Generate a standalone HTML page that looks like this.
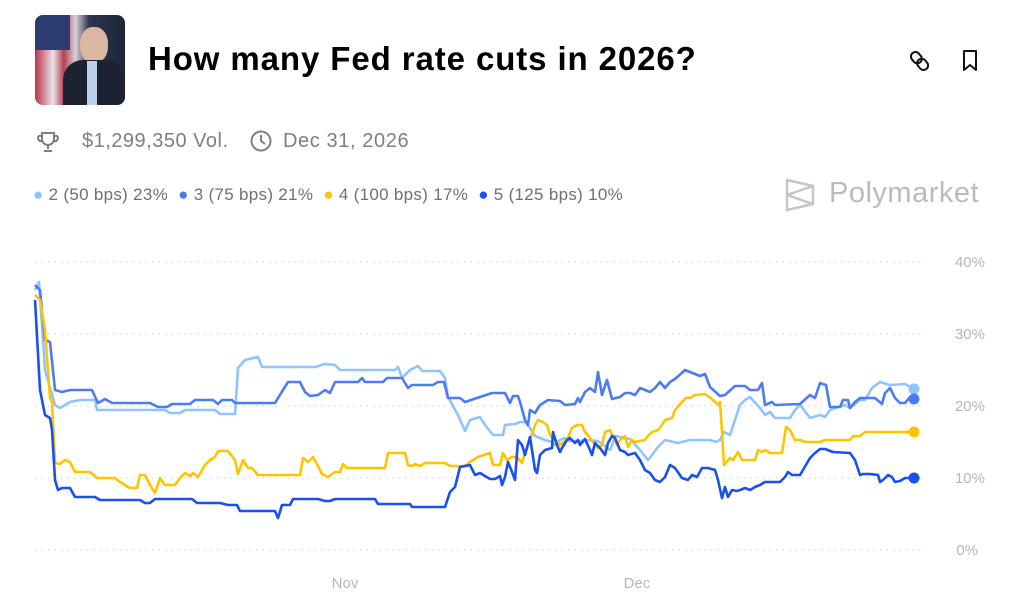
<!DOCTYPE html>
<html><head><meta charset="utf-8"><style>
body{margin:0;width:1024px;height:608px;background:#fff;font-family:"Liberation Sans",sans-serif;overflow:hidden;position:relative}
.t{position:absolute;white-space:nowrap}
</style></head><body>
<div style="position:absolute;left:35px;top:15px;width:90px;height:90px;border-radius:8px;overflow:hidden;background:linear-gradient(90deg,#b8334a 0,#e9e3e8 20%,#b44054 32%,#d8d2d8 45%,#2d3550 60%,#1e2535 100%)">
<div style="position:absolute;left:0;top:0;width:35px;height:35px;background:#2d3c70"></div>
<div style="position:absolute;left:45px;top:12px;width:28px;height:36px;border-radius:45%;background:#d9b7a2"></div>
<div style="position:absolute;left:28px;top:45px;width:62px;height:50px;border-radius:20px 20px 0 0;background:#1c2231"></div>
<div style="position:absolute;left:52px;top:46px;width:10px;height:44px;background:#bcd0e8"></div>
</div>
<div class="t" style="left:148px;top:40px;font-size:33px;letter-spacing:0.9px;font-weight:bold;color:#000">How many Fed rate cuts in 2026?</div>
<svg style="position:absolute;left:908px;top:48px" width="80" height="26" viewBox="0 0 80 26">
<g fill="none" stroke="#111" stroke-width="2"><rect x="4" y="4" width="9" height="12" rx="4.5" transform="rotate(-40 8 10)"/><rect x="10" y="10" width="9" height="12" rx="4.5" transform="rotate(-40 15 16)"/>
<path d="M56 3h12v19l-6-5-6 5z" stroke-linejoin="round"/></g></svg>
<svg style="position:absolute;left:36px;top:130px" width="24" height="24"><g fill="none" stroke="#7a7f87" stroke-width="2"><path d="M6 3h12v6a6 6 0 0 1-12 0z M6 6H3a3 3 0 0 0 3 5 M18 6h3a3 3 0 0 1-3 5 M12 15v4 M8 21h8"/></g></svg>
<div class="t" style="left:82px;top:130px;font-size:20px;letter-spacing:0.5px;color:#7a7f87">$1,299,350 Vol.</div>
<svg style="position:absolute;left:249px;top:129px" width="24" height="24"><circle cx="12" cy="12" r="9.5" fill="none" stroke="#7a7f87" stroke-width="2"/><path d="M12 6v6l4 3" fill="none" stroke="#7a7f87" stroke-width="2"/></svg>
<div class="t" style="left:283px;top:130px;font-size:20px;letter-spacing:0.6px;color:#7a7f87">Dec 31, 2026</div>
<div class="t" style="left:33px;top:185px;font-size:17px;letter-spacing:0.3px;color:#6b7079">
<span style="color:#8ec5ff">●</span> 2 (50 bps) 23% &nbsp;<span style="color:#4c7cf5">●</span> 3 (75 bps) 21% &nbsp;<span style="color:#ffc400">●</span> 4 (100 bps) 17% &nbsp;<span style="color:#1a4ff0">●</span> 5 (125 bps) 10%</div>
<svg style="position:absolute;left:784px;top:177px" width="34" height="36"><g fill="none" stroke="#c3c6cb" stroke-width="2.5"><path d="M3 3l26 6v18l-26 6z M3 3v30 M3 18l26-9 M3 18l26 9"/></g></svg>
<div class="t" style="left:829px;top:177px;font-size:29px;letter-spacing:0.5px;color:#b8bcc2">Polymarket</div>
<svg style="position:absolute;left:0;top:0" width="1024" height="608">
<g stroke="#d3d5d9" stroke-width="1.2" stroke-dasharray="1.5 5"><line x1="35" x2="922" y1="262" y2="262"/><line x1="35" x2="922" y1="334" y2="334"/><line x1="35" x2="922" y1="406" y2="406"/><line x1="35" x2="922" y1="478" y2="478"/><line x1="35" x2="922" y1="550" y2="550"/></g>
<g font-family="Liberation Sans" font-size="15" fill="#b3b7bd"><text x="985" y="267" text-anchor="end">40%</text><text x="985" y="339" text-anchor="end">30%</text><text x="985" y="411" text-anchor="end">20%</text><text x="985" y="483" text-anchor="end">10%</text><text x="978" y="555" text-anchor="end">0%</text>
<text x="345" y="588" text-anchor="middle">Nov</text><text x="637" y="588" text-anchor="middle">Dec</text></g>
<g fill="none" stroke-width="2.6" stroke-linejoin="round">
<polyline stroke="#8ec5ff" points="35,290 39,282 45,370 55,405 60,408 70,402 80,400 95,400 97,410 165,410 170,413 180,413 185,410 215,410 220,414 235,414 238,368 245,360 258,357 262,367 315,367 325,364 335,365 340,370 395,370 398,367 402,378 410,370 418,366 422,371 440,371 445,378 448,397 458,415 465,431 470,420 480,417 485,425 493,435 503,435 505,425 515,424 520,422 525,422 530,428 535,436 545,440 552,442 555,445 560,440 565,438 570,441 580,441 585,440 598,441 605,446 610,450 612,446 615,436 620,437 630,439 640,450 648,460 652,455 658,447 665,440 678,443 690,440 710,440 716,442 720,440 724,432 730,435 735,420 740,405 745,400 750,397 760,408 765,415 770,412 775,418 790,418 795,410 800,405 810,418 820,415 825,417 830,410 835,408 845,405 850,408 860,400 865,400 872,388 880,382 890,385 905,384 914,389"/>
<polyline stroke="#4c7cf5" points="35,285 40,290 45,340 50,342 55,390 62,392 70,390 92,390 98,403 105,399 112,403 150,403 158,407 167,407 172,404 190,404 195,400 213,400 218,404 222,400 232,400 235,403 275,403 278,398 288,382 300,382 305,392 310,396 318,395 325,390 330,393 335,382 358,382 362,378 365,382 383,382 387,378 402,378 408,388 412,385 433,385 438,382 444,382 448,398 460,398 465,402 480,397 492,393 505,393 510,403 513,396 518,396 520,402 525,420 528,425 530,410 535,413 540,405 548,400 560,401 565,405 575,404 578,398 580,402 585,392 590,388 595,392 598,372 602,395 607,380 612,399 620,397 625,393 630,393 635,395 640,388 650,392 655,388 660,382 665,388 670,382 675,379 685,370 690,372 700,376 705,374 710,387 720,396 725,395 735,386 745,386 750,390 758,390 762,383 765,405 772,402 775,405 800,404 810,395 815,398 820,383 826,385 830,407 840,407 843,400 848,400 850,408 855,402 860,398 875,398 882,404 885,393 890,388 895,398 900,403 905,403 910,397 914,399"/>
<polyline stroke="#ffc400" points="35,295 40,300 45,330 50,398 52,402 55,463 60,464 65,460 70,462 75,472 90,472 97,478 115,478 120,482 130,488 137,488 140,475 145,475 150,485 155,493 160,478 165,485 175,485 180,478 185,473 190,476 193,473 198,477 205,465 210,460 215,457 218,451 228,451 235,460 238,474 243,460 248,468 252,468 258,475 300,475 303,458 308,462 313,457 318,466 322,474 328,477 335,472 340,472 343,464 347,468 385,468 388,453 405,453 408,465 412,466 415,464 420,466 425,463 445,463 450,466 465,466 470,462 478,457 490,453 493,465 500,465 503,453 507,460 512,457 517,457 522,463 525,452 530,440 535,425 538,420 543,422 547,425 550,435 555,440 560,445 562,443 567,440 572,428 577,425 582,425 585,432 590,438 595,445 598,448 602,445 605,432 610,430 617,445 620,440 625,436 628,447 632,440 635,442 645,440 648,436 652,432 658,430 662,425 665,420 672,418 675,410 682,402 686,398 690,398 695,395 705,394 712,399 718,405 720,402 722,432 724,465 730,458 733,460 738,452 742,460 755,460 758,450 762,452 765,450 770,453 782,453 786,427 790,430 795,440 800,440 805,442 820,442 825,440 850,440 853,436 860,436 865,432 914,432"/>
<polyline stroke="#1a4ff0" points="35,300 40,390 45,415 50,418 52,430 55,480 58,490 62,488 70,488 75,497 95,497 100,500 140,500 145,503 150,503 155,499 192,499 197,503 220,503 228,505 237,505 240,511 275,511 278,518 282,505 290,505 293,499 318,499 325,501 330,501 335,499 375,499 378,504 410,504 412,507 445,507 450,492 455,487 460,467 470,465 475,475 480,473 490,479 495,479 500,476 502,485 505,477 508,462 512,472 515,480 518,440 522,445 525,455 530,437 535,470 537,473 540,455 545,450 552,448 553,432 557,445 560,452 562,448 567,440 570,438 575,443 578,440 580,445 585,439 590,450 592,455 595,443 600,448 605,455 608,443 612,436 615,438 620,450 625,452 628,455 635,453 640,460 645,470 650,473 655,480 660,482 665,477 670,465 675,468 682,478 688,480 692,475 697,477 702,468 708,468 715,470 718,480 722,498 725,487 728,497 732,490 737,491 740,490 745,488 750,490 755,487 760,485 765,482 780,482 785,477 788,472 792,475 800,475 810,458 815,453 820,449 825,449 833,452 850,453 855,460 860,475 863,474 870,474 878,475 880,482 883,480 885,478 888,475 892,477 895,482 900,481 905,478 914,478"/>
</g>
<circle cx="914" cy="389" r="5.5" fill="#8ec5ff"/><circle cx="914" cy="399" r="5.5" fill="#4c7cf5"/><circle cx="914" cy="432" r="5.5" fill="#ffc400"/><circle cx="914" cy="478" r="5.5" fill="#1a4ff0"/>
</svg>
</body></html>
